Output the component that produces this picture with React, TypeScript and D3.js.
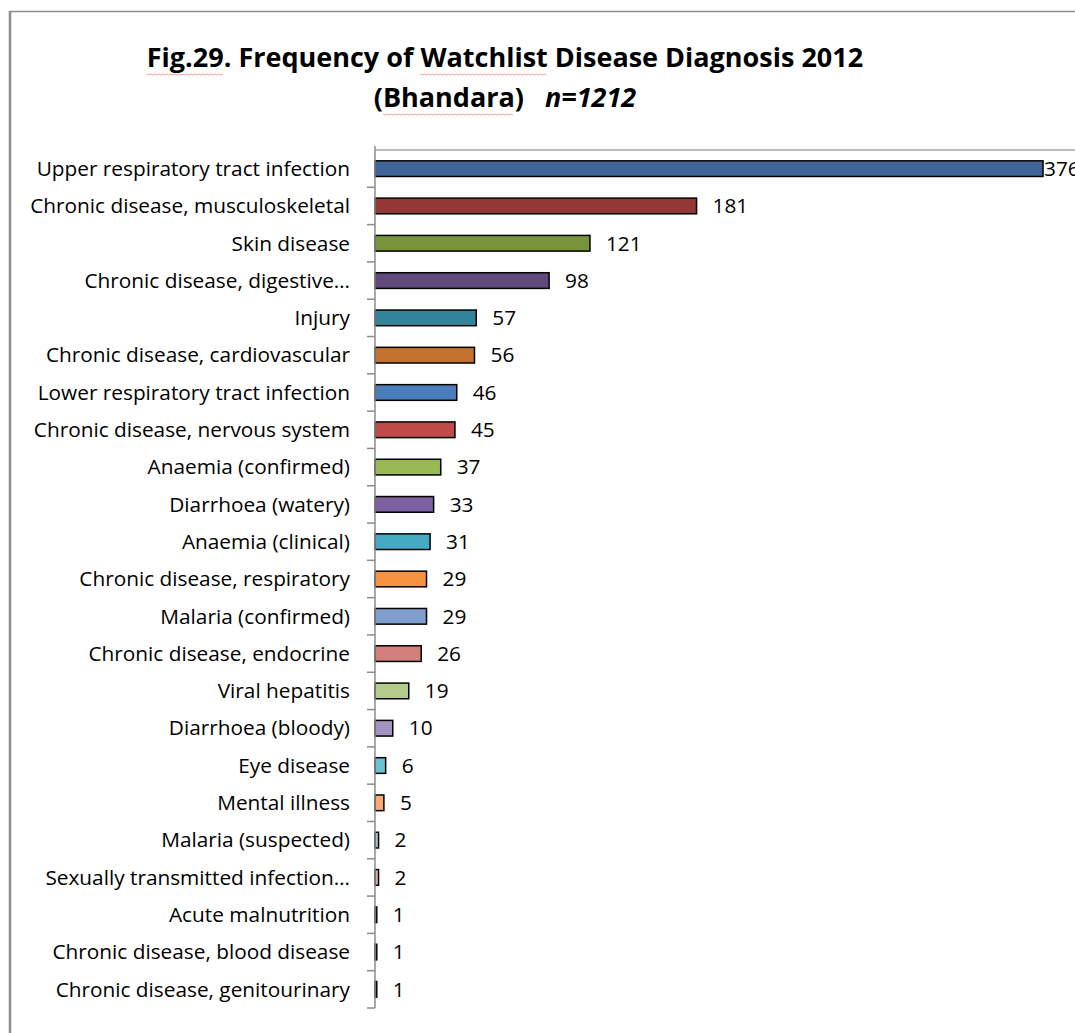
import React, { useEffect, useRef } from "react";
import * as d3 from "d3";

// Watchlist disease diagnoses, Bhandara 2012 (n=1212)
const categories: string[] = [
  "Upper respiratory tract infection",
  "Chronic disease, musculoskeletal",
  "Skin disease",
  "Chronic disease, digestive…",
  "Injury",
  "Chronic disease, cardiovascular",
  "Lower respiratory tract infection",
  "Chronic disease, nervous system",
  "Anaemia (confirmed)",
  "Diarrhoea (watery)",
  "Anaemia (clinical)",
  "Chronic disease, respiratory",
  "Malaria (confirmed)",
  "Chronic disease, endocrine",
  "Viral hepatitis",
  "Diarrhoea (bloody)",
  "Eye disease",
  "Mental illness",
  "Malaria (suspected)",
  "Sexually transmitted infection…",
  "Acute malnutrition",
  "Chronic disease, blood disease",
  "Chronic disease, genitourinary",
];

const counts: number[] = [376, 181, 121, 98, 57, 56, 46, 45, 37, 33, 31, 29, 29, 26, 19, 10, 6, 5, 2, 2, 1, 1, 1];

const barColors: string[] = [
  "#3F6598", "#953735", "#77933C", "#604A7B", "#31849B", "#C3732F",
  "#4A7EBB", "#BE4B48", "#98B954", "#7D60A0", "#46AAC5", "#F69240",
  "#7F9FCF", "#D27F7E", "#B3CC87", "#A391C0", "#6FC0D5", "#F8AC72",
  "#A9C0E0", "#E5A9A8", "#C6D7A3", "#C4B7D6", "#A5D5E3",
];

const titleLine1 = "Fig.29. Frequency of Watchlist Disease Diagnosis 2012";
const titlePlace = "(Bhandara)";
const titleN = "n=1212";
// words flagged by the spell checker in the title
const flaggedWords: string[] = ["Fig.29", "Watchlist", "Bhandara"];

const W = 1075;
const H = 1033;
const FONT = "'Open Sans', 'Noto Sans', sans-serif";

export default function App() {
  const ref = useRef<SVGSVGElement | null>(null);

  useEffect(() => {
    const svg = d3.select(ref.current);
    svg.selectAll("*").remove();

    const plot = { left: 375, top: 150, bottom: 1008 };

    const x = d3.scaleLinear().domain([0, 376]).range([plot.left, 1043]);
    const y = d3
      .scaleBand<string>()
      .domain(categories)
      .range([plot.top, plot.bottom])
      .paddingInner(0.58)
      .paddingOuter(0.29);
    const step = y.step();

    // outer chart frame
    svg.append("line").attr("x1", 10).attr("x2", W).attr("y1", 11.5).attr("y2", 11.5)
      .attr("stroke", "#8c8c8c").attr("stroke-width", 1.5);
    svg.append("line").attr("x1", 10).attr("x2", 10).attr("y1", 11).attr("y2", H)
      .attr("stroke", "#8c8c8c").attr("stroke-width", 2.5);

    // title
    const title = svg.append("g").attr("font-family", FONT).attr("font-weight", "bold")
      .attr("fill", "#000").attr("font-size", 27).attr("text-anchor", "middle");
    const t1 = title.append("text").attr("x", 505).attr("y", 67).text(titleLine1);
    const t2 = title.append("text").attr("x", 505).attr("y", 107);
    t2.append("tspan").text(titlePlace);
    t2.append("tspan").text("\u00a0\u00a0 ");
    t2.append("tspan").attr("font-style", "italic").text(titleN);

    // spell-check squiggles under flagged words
    const squiggle = (textEl: SVGTextElement, full: string, word: string, baseY: number) => {
      const i = full.indexOf(word);
      if (i < 0) return;
      const s = textEl.getStartPositionOfChar(i).x;
      const e = textEl.getEndPositionOfChar(i + word.length - 1).x;
      const pts: [number, number][] = [];
      for (let px = s, k = 0; px <= e; px += 2, k++) pts.push([px, baseY + (k % 2 ? 1 : 0)]);
      svg.append("path").attr("d", d3.line()(pts) || "").attr("fill", "none")
        .attr("stroke", "#f08080").attr("stroke-width", 0.8);
    };
    const n1 = t1.node() as SVGTextElement;
    const n2 = t2.node() as SVGTextElement;
    const full2 = n2.textContent || "";
    squiggle(n1, titleLine1, flaggedWords[0], 74);
    squiggle(n1, titleLine1, flaggedWords[1], 74);
    squiggle(n2, full2, flaggedWords[2], 114);

    // plot area top edge
    svg.append("line").attr("x1", plot.left).attr("x2", W).attr("y1", plot.top).attr("y2", plot.top)
      .attr("stroke", "#a6a6a6").attr("stroke-width", 1.5);

    // bars
    svg.append("g").selectAll("rect").data(counts).join("rect")
      .attr("x", plot.left)
      .attr("y", (_, i) => y(categories[i]) as number)
      .attr("width", (d) => x(d) - plot.left)
      .attr("height", y.bandwidth())
      .attr("fill", (_, i) => barColors[i])
      .attr("stroke", "#000").attr("stroke-width", 1.5);

    // category axis with ticks at band boundaries
    const axis = svg.append("g");
    axis.append("line").attr("x1", plot.left).attr("x2", plot.left)
      .attr("y1", plot.top - 4).attr("y2", plot.bottom)
      .attr("stroke", "#8c8c8c").attr("stroke-width", 1.5);
    const bounds = d3.range(categories.length + 1).map((k) => plot.top + k * step);
    axis.selectAll("line.tick").data(bounds.slice(1)).join("line").attr("class", "tick")
      .attr("x1", plot.left - 8).attr("x2", plot.left)
      .attr("y1", (d) => d).attr("y2", (d) => d)
      .attr("stroke", "#8c8c8c").attr("stroke-width", 1.5);
    axis.selectAll("text").data(categories).join("text")
      .attr("x", 350)
      .attr("y", (d) => (y(d) as number) + y.bandwidth() / 2)
      .attr("dy", "0.35em")
      .attr("text-anchor", "end")
      .attr("font-family", FONT).attr("font-size", 20.8).attr("fill", "#000")
      .text((d) => d);

    // value labels
    svg.append("g").selectAll("text").data(counts).join("text")
      .attr("x", (d) => Math.min(x(d) + 16, x(376) + 1))
      .attr("y", (_, i) => (y(categories[i]) as number) + y.bandwidth() / 2)
      .attr("dy", "0.35em")
      .attr("font-family", FONT).attr("font-size", 20.8).attr("fill", "#000")
      .text((d) => String(d));
  }, []);

  return (
    <svg ref={ref} width={W} height={H}
      style={{ position: "absolute", left: 0, top: 0, background: "#fff" }} />
  );
}
